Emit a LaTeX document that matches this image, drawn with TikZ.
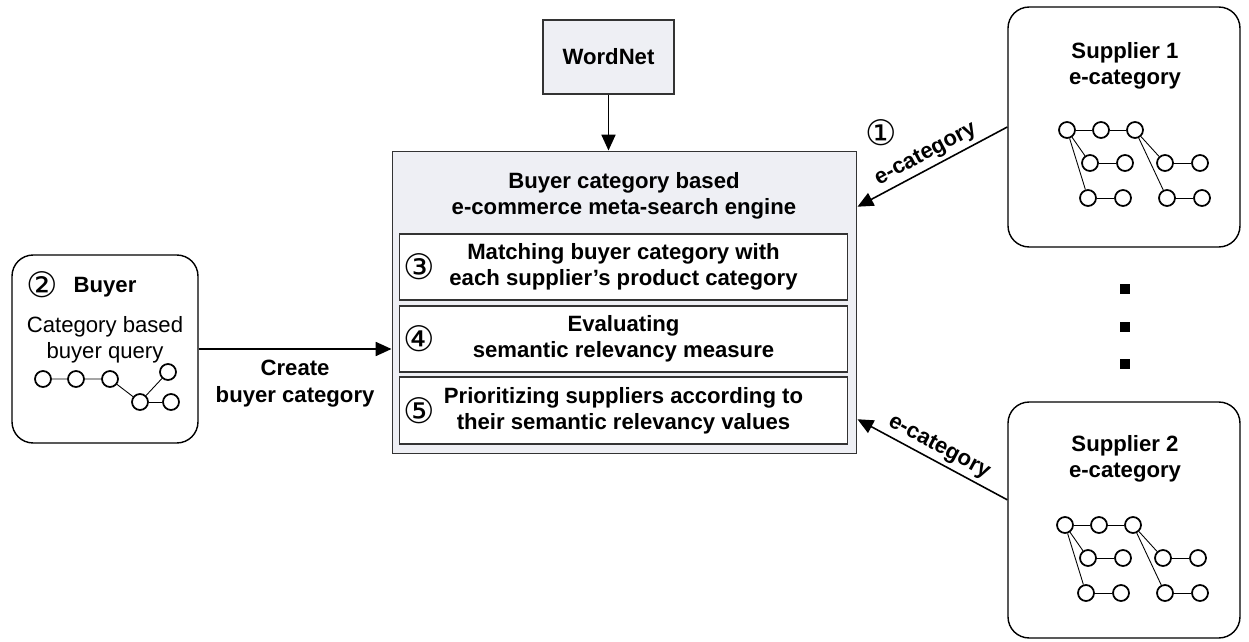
\documentclass[tikz,border=0pt]{standalone}
\usepackage{fontspec}
\setmainfont{Liberation Sans}
\newfontfamily\circfont{DejaVu Sans}
\usetikzlibrary{arrows.meta, positioning, calc}
\definecolor{panel}{HTML}{EEEFF4}
\definecolor{edge}{HTML}{333333}

\tikzset{
  txt/.style={font=\fontsize{12.6}{15}\selectfont\bfseries, align=center, inner sep=2pt},
  qtxt/.style={font=\fontsize{12.6}{15}\selectfont, align=center, inner sep=2pt},
  numtxt/.style={font=\circfont\fontsize{20}{20}\selectfont, inner sep=0pt},
  panelbox/.style={draw=edge, line width=0.6pt, fill=panel, inner sep=0pt},
  subbox/.style={draw=edge, line width=0.6pt, fill=white, minimum width=8.98cm,
    minimum height=1.32cm, inner sep=0pt, font=\fontsize{12.6}{15}\selectfont\bfseries, align=center},
  partybox/.style={draw=black, line width=0.8pt, rounded corners=12pt, fill=white, inner sep=0pt},
  vtx/.style={circle, draw=black, line width=1pt, fill=white, minimum size=0.32cm, inner sep=0pt},
  link/.style={line width=0.5pt},
  arr/.style={-{Triangle[length=9pt,width=8pt]}, line width=0.9pt},
  dotsq/.style={fill=black, minimum size=0.19cm, inner sep=0pt},
}

% e-category tree of a supplier: #1 name prefix, #2 shift
\newcommand{\ecattree}[2]{%
  \begin{scope}[shift={#2}]
    \node[vtx] (#1a) at (1067,130) {};
    \node[vtx] (#1b) at (1101,130) {};
    \node[vtx] (#1c) at (1135,130) {};
    \node[vtx] (#1d) at (1090,163) {};
    \node[vtx] (#1e) at (1125,163) {};
    \node[vtx] (#1f) at (1165,163) {};
    \node[vtx] (#1g) at (1200,163) {};
    \node[vtx] (#1h) at (1088,198) {};
    \node[vtx] (#1i) at (1123,198) {};
    \node[vtx] (#1j) at (1167,198) {};
    \node[vtx] (#1k) at (1202,198) {};
    \draw[link] (#1a) -- (#1b) -- (#1c);
    \draw[link] (#1a) -- (#1d) (#1a) -- (#1h) (#1c) -- (#1f) (#1c) -- (#1j);
    \draw[link] (#1d) -- (#1e) (#1f) -- (#1g) (#1h) -- (#1i) (#1j) -- (#1k);
  \end{scope}}

\begin{document}
\begin{tikzpicture}[x=0.02cm, y=-0.02cm]
  \useasboundingbox (0,0) rectangle (1249,642);

  % WordNet
  \node[panelbox, txt, minimum width=2.62cm, minimum height=1.48cm] (wordnet) at (608.5,57) {WordNet};

  % meta-search engine
  \node[panelbox, minimum width=9.3cm, minimum height=6.06cm] (engine) at (624.5,302.5) {};
  \node[txt] (enginetitle) at (624,196) {Buyer category based\\e-commerce meta-search engine};
  \node[subbox] (match) at (623.5,267) {Matching buyer category with\\each supplier’s product category};
  \node[subbox] (evaluate) at (623.5,339) {Evaluating\\semantic relevancy measure};
  \node[subbox, minimum height=1.34cm] (rank) at (623.5,410.5) {Prioritizing suppliers according to\\their semantic relevancy values};
  \node[numtxt] (n3) at (419,267) {③};
  \node[numtxt] (n4) at (419,339) {④};
  \node[numtxt] (n5) at (419,410.5) {⑤};

  % buyer
  \node[partybox, minimum width=3.72cm, minimum height=3.76cm] (buyer) at (105,349) {};
  \node[numtxt] (n2) at (42,285) {②};
  \node[txt] (buyertitle) at (105,287) {Buyer};
  \node[qtxt] (query) at (105,340) {Category based\\buyer query};
  \node[vtx] (q1) at (43,379) {};
  \node[vtx] (q2) at (76,379) {};
  \node[vtx] (q3) at (110,379) {};
  \node[vtx] (q4) at (168,372) {};
  \node[vtx] (q5) at (140,402) {};
  \node[vtx] (q6) at (171,402) {};
  \draw[link] (q1) -- (q2) -- (q3) -- (q5) -- (q4);
  \draw[link] (q5) -- (q6);

  % suppliers
  \node[partybox, minimum width=4.64cm, minimum height=4.8cm] (sup1) at (1124,127) {};
  \node[txt] (sup1title) at (1125,66) {Supplier 1\\e-category};
  \ecattree{s1}{(0,0)}
  \node[partybox, minimum width=4.64cm, minimum height=4.72cm] (sup2) at (1124,520) {};
  \node[txt] (sup2title) at (1125,459) {Supplier 2\\e-category};
  \ecattree{s2}{(-2,395)}
  \node[dotsq] (dot1) at (1125,289) {};
  \node[dotsq] (dot2) at (1125,327) {};
  \node[dotsq] (dot3) at (1125,364) {};

  % connectors
  \draw[arr] (wordnet.south) -- (wordnet.south |- engine.north);
  \draw[arr] (buyer.east) -- node[txt, below=4pt] {Create\\buyer category} (buyer.east -| engine.west);
  \coordinate (in1) at ($(engine.north east)!0.185!(engine.south east)$);
  \coordinate (in2) at ($(engine.north east)!0.884!(engine.south east)$);
  \coordinate (out2) at ($(sup2.north west)!0.415!(sup2.south west)$);
  \draw[arr] (sup1.west) -- node[txt, sloped, above] {e-category} (in1);
  \draw[arr] (out2) -- node[txt, sloped, above] {e-category} (in2);
  \node[numtxt] (n1) at (881,133) {①};
\end{tikzpicture}
\end{document}
